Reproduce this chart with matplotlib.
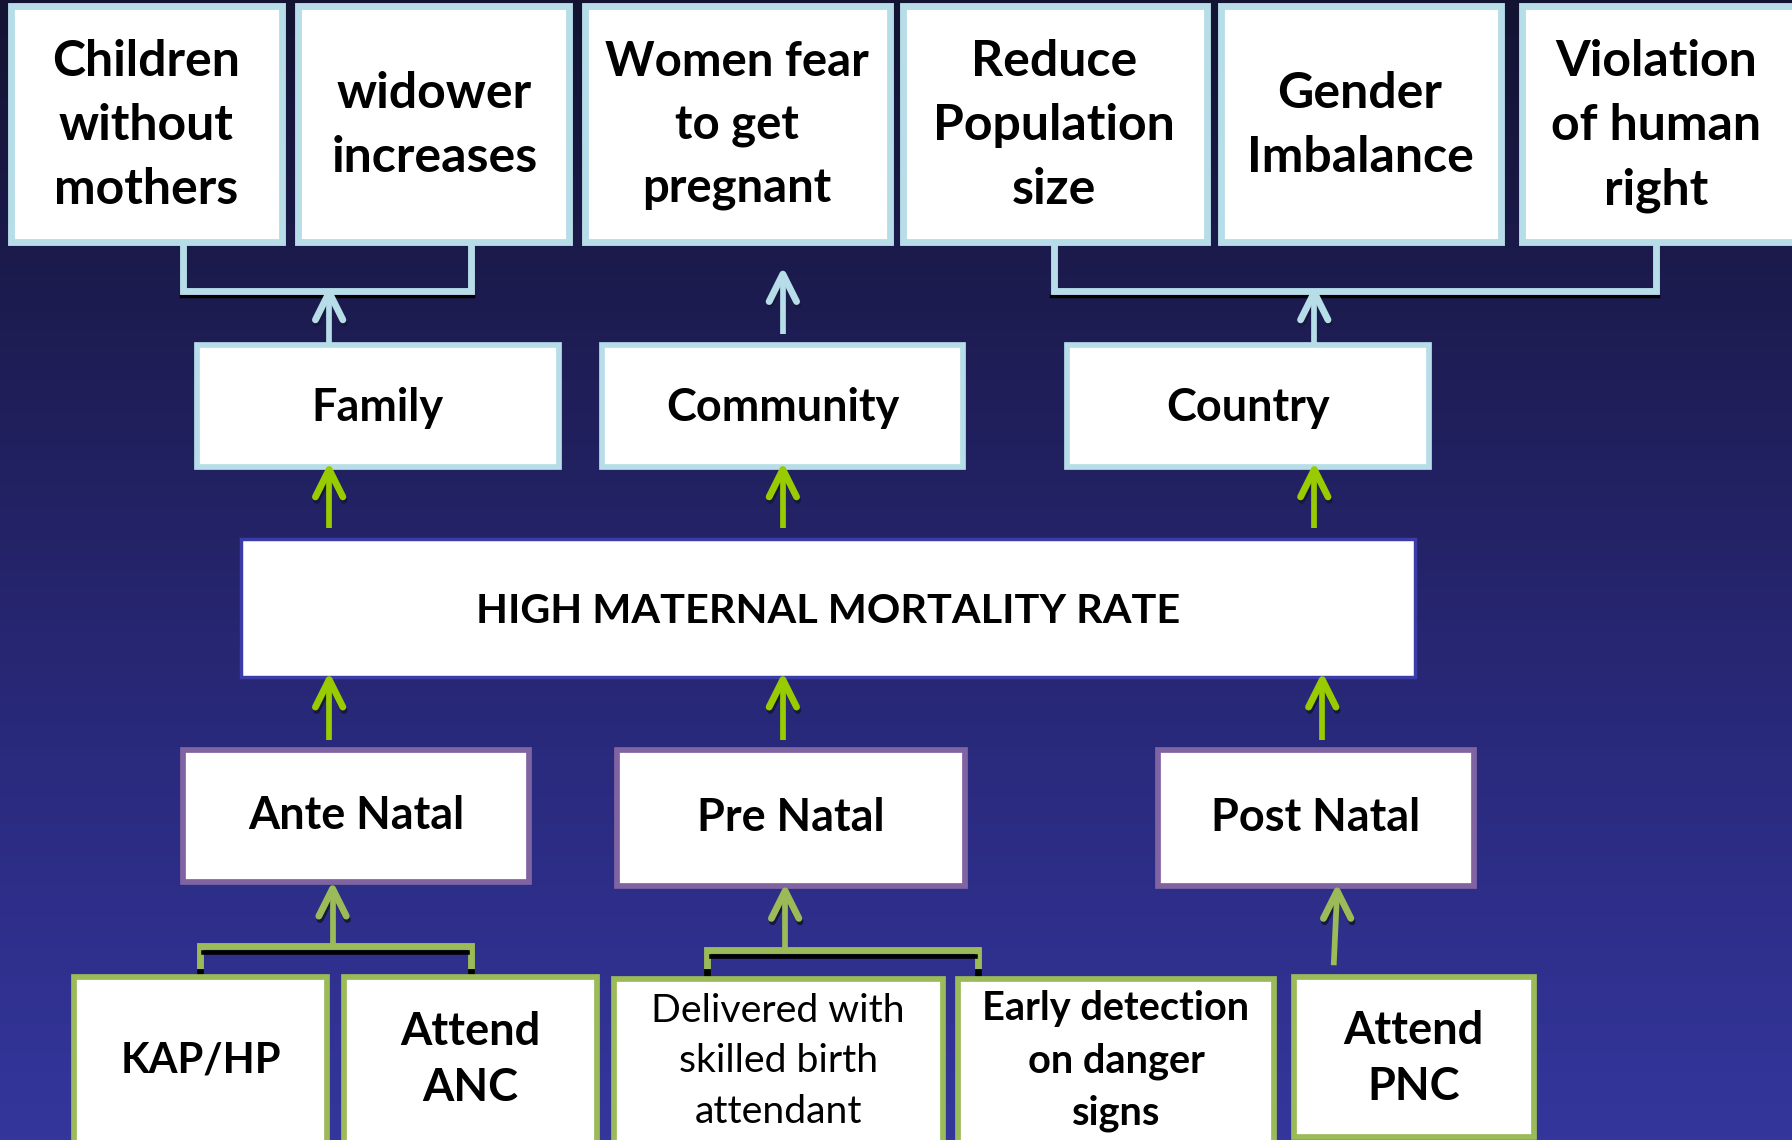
import numpy as np
import matplotlib.pyplot as plt
from matplotlib.patches import Rectangle
from matplotlib.colors import LinearSegmentedColormap

# labels of the problem tree
effects = ["Children\nwithout\nmothers", "widower\nincreases", "Women fear\nto get\npregnant",
           "Reduce\nPopulation\nsize", "Gender\nImbalance", "Violation\nof human\nright"]
levels = ["Family", "Community", "Country"]
problem = "HIGH MATERNAL MORTALITY RATE"
stages = ["Ante Natal", "Pre Natal", "Post Natal"]
causes = ["KAP/HP", "Attend\nANC", "Delivered with\nskilled birth\nattendant",
          "Early detection\non danger\nsigns", "Attend\nPNC"]
cause_bold = [True, True, False, True, True]

# layout (reference pixel space, 1568 x 998)
W, H = 1568, 998
effect_x = [(10, 247), (261, 498), (512, 779), (790, 1056), (1068, 1313), (1332, 1580)]
effect_tx = [128, 380, 645, 922, 1190, 1449]
effect_size = [36, 36, 34, 36, 36, 36]
effect_y = (5, 212)
level_x = [(172, 489), (527, 843), (934, 1250)]
level_y = (302, 409)
prob_x, prob_y = (211, 1238), (472, 593)
stage_x = [(160, 463), (540, 844), (1013, 1290)]
stage_y = [(657, 772), (657, 776), (657, 776)]
cause_x = [(65, 286), (301, 522), (537, 825), (838, 1115), (1132, 1342)]
cause_y = [(855, 1010), (855, 1010), (857, 1010), (857, 1010), (855, 995)]
cause_text_y = [928, 928, 929, 929, 927]
cause_size = [30, 32.5, 28.3, 28.6, 32.5]
cause_ls = [1.0, 1.42, 1.5, 1.5, 1.42]

PX = 0.823  # one reference pixel in points
AQUA = "#b7dee8"
PURPLE = "#8064a2"
OLIVE = "#9bbb59"
LIME = "#99cc00"
SHADOW = "#17173f"
FONT = "Lato"

fig = plt.figure(figsize=(17.92, 11.40), dpi=100)
ax = fig.add_axes([0, 0, 1, 1])
cmap = LinearSegmentedColormap.from_list("bg", ["#131332", "#1f1e58", "#2a2a7e", "#34369c"])
grad = np.linspace(0, 1, 256).reshape(-1, 1)
ax.imshow(grad, cmap=cmap, extent=[0, W, H, 0], aspect="auto", zorder=0)
ax.set_xlim(0, W)
ax.set_ylim(H, 0)
ax.axis("off")


def box(x, y, edge, lw):
    ax.add_patch(Rectangle((x[0], y[0]), x[1] - x[0], y[1] - y[0], facecolor="white",
                           edgecolor=edge, lw=lw * PX, zorder=3))


def label(xc, yc, s, size, bold=True, ls=1.0):
    ax.text(xc, yc, s, ha="center", va="center", fontsize=size, family=FONT,
            fontweight="bold" if bold else "normal", color="black", linespacing=ls, zorder=5)


def arrow(x0, y0, x1, y1, color):
    # open arrowhead pointing up, with a dark drop shadow on the wings
    hx, hy = 12, 24
    for dx, dy, c in [(1, 3, SHADOW), (0, 0, color)]:
        ax.plot([x1 - hx + dx, x1 + dx, x1 + hx + dx], [y1 + hy + dy, y1 + dy, y1 + hy + dy],
                color=c, lw=6 * PX, solid_capstyle="round", solid_joinstyle="round", zorder=4)
    ax.plot([x0, x1], [y0, y1], color=color, lw=5 * PX, solid_capstyle="butt", zorder=4)


def bracket(xa, xb, ytop, ybar, color, up=True):
    # two legs joined by a bar, with a black line along the bar
    ax.plot([xa, xa, xb, xb], [ytop, ybar, ybar, ytop], color=color, lw=6 * PX,
            solid_joinstyle="miter", zorder=2)
    if up:
        ax.plot([xa - 2, xb + 2], [ybar + 4, ybar + 4], color="black", lw=3 * PX, zorder=1)
    else:
        ax.plot([xa + 3, xb - 3], [ybar + 5, ybar + 5], color="black", lw=4 * PX, zorder=2.5)
        for xx in (xa, xb):
            ax.plot([xx, xx], [ytop - 6, ytop], color="black", lw=6 * PX, zorder=2.5)


# effects
for (x, tx, fs, txt) in zip(effect_x, effect_tx, effect_size, effects):
    box(x, effect_y, AQUA, 6)
    label(tx, 110, txt, fs, ls=1.52)

bracket(160, 412, 212, 255, AQUA)
bracket(922, 1449, 212, 255, AQUA)
arrow(288, 302, 288, 256, AQUA)
arrow(685, 292, 685, 240, AQUA)
arrow(1150, 302, 1150, 256, AQUA)

# levels
for (x, txt) in zip(level_x, levels):
    box(x, level_y, AQUA, 5)
    label((x[0] + x[1]) / 2, 357, txt, 32.4)

for xa in (288, 685, 1150):
    arrow(xa, 462, xa, 411, LIME)

# core problem
box(prob_x, prob_y, "#3b3ca8", 3)
label(725, 535, problem, 29.8)

for xa in (288, 685, 1157):
    arrow(xa, 648, xa, 595, LIME)

# stages
for (x, y, txt) in zip(stage_x, stage_y, stages):
    box(x, y, PURPLE, 5)
    label((x[0] + x[1]) / 2, (y[0] + y[1]) / 2, txt, 32.4)

# causes
bracket(175, 412, 857, 828, OLIVE, up=False)
bracket(619, 856, 857, 832, OLIVE, up=False)
arrow(291, 828, 291, 778, OLIVE)
arrow(687, 832, 687, 780, OLIVE)
arrow(1167, 845, 1170, 780, OLIVE)

for (x, y, ty, txt, b, fs, ls) in zip(cause_x, cause_y, cause_text_y, causes, cause_bold,
                                      cause_size, cause_ls):
    box(x, y, OLIVE, 5)
    label((x[0] + x[1]) / 2, ty, txt, fs, bold=b, ls=ls)

fig.savefig("out.png", dpi=100)
